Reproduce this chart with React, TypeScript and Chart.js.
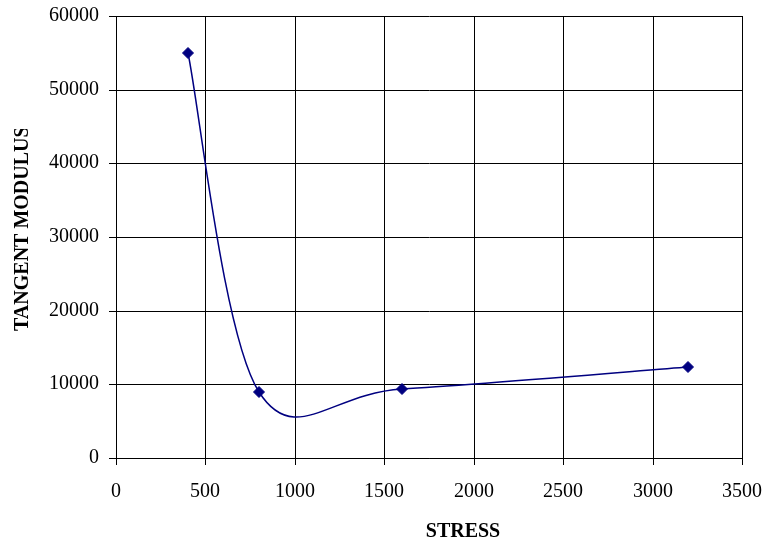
import React, { useEffect, useRef } from "react";
import { Chart, registerables } from "chart.js";

Chart.register(...registerables);

const stressValues = [400, 800, 1600, 3200];
const modulusValues = [55000, 8900, 9300, 12400];
const xTickValues = [0, 500, 1000, 1500, 2000, 2500, 3000, 3500];
const yTickValues = [0, 10000, 20000, 30000, 40000, 50000, 60000];
const xTitle = "STRESS";
const yTitle = "TANGENT MODULUS";

const FONT = "'Liberation Serif', 'Times New Roman', serif";

// Smoothed-line control points in the style of a spreadsheet "smoothed line":
// Catmull-Rom (1/6) tangents computed from the element positions given by the scales.
const smoothPlugin = {
  id: "smoothLine",
  beforeDatasetDraw(chart: any, args: any) {
    const meta = args.meta;
    const pts = meta.data;
    const n = pts.length;
    for (let i = 0; i < n; i++) {
      const p = pts[i];
      const prev = pts[i - 1] || p;
      const next = pts[i + 1] || p;
      let dx = (next.x - prev.x) / 6;
      let dy = (next.y - prev.y) / 6;
      const len = Math.hypot(dx, dy) || 1;
      const dPrev = Math.hypot(p.x - prev.x, p.y - prev.y);
      const dNext = Math.hypot(next.x - p.x, next.y - p.y);
      let fIn = 1;
      let fOut = 1;
      if (dPrev > 0 && len > dPrev / 2) fIn = dPrev / 2 / len;
      if (dNext > 0 && len > dNext / 2) fOut = dNext / 2 / len;
      p.cp1x = p.x - dx * fIn;
      p.cp1y = p.y - dy * fIn;
      p.cp2x = p.x + dx * fOut;
      p.cp2y = p.y + dy * fOut;
    }
    if (meta.dataset) {
      meta.dataset._pointsUpdated = true;
      meta.dataset._path = undefined;
    }
  },
};

const titlesPlugin = {
  id: "axisTitles",
  afterDraw(chart: any) {
    const ctx = chart.ctx;
    ctx.save();
    ctx.fillStyle = "#000";
    ctx.font = `bold 20px ${FONT}`;
    ctx.textAlign = "center";
    ctx.textBaseline = "alphabetic";
    ctx.fillText(xTitle, 463, 537);
    ctx.restore();

    ctx.save();
    ctx.beginPath();
    ctx.rect(0, 129, 80, 545 - 129);
    ctx.clip();
    ctx.fillStyle = "#000";
    ctx.font = `bold 20px ${FONT}`;
    ctx.translate(28, 331);
    ctx.rotate(-Math.PI / 2);
    ctx.textAlign = "left";
    ctx.textBaseline = "alphabetic";
    ctx.fillText(yTitle, 0, 0);
    ctx.restore();
  },
};

const zeroPadding = (s: any) => {
  s.paddingLeft = 0;
  s.paddingRight = 0;
  s.paddingTop = 0;
  s.paddingBottom = 0;
};

export default function App() {
  const ref = useRef<HTMLCanvasElement | null>(null);

  useEffect(() => {
    if (!ref.current) return;
    const points = stressValues.map((x, i) => ({ x, y: modulusValues[i] }));
    const chart = new Chart(ref.current, {
      type: "scatter",
      data: {
        datasets: [
          {
            data: points,
            showLine: true,
            borderColor: "#000080",
            borderWidth: 1.5,
            tension: 0.4,
            pointStyle: "rectRot",
            pointRadius: 5.5,
            pointBackgroundColor: "#000080",
            pointBorderColor: "#000080",
            pointBorderWidth: 1,
          } as any,
        ],
      },
      options: {
        responsive: false,
        animation: false,
        layout: { padding: { left: 0, top: 16, right: 28, bottom: 0 } },
        plugins: { legend: { display: false }, tooltip: { enabled: false } },
        scales: {
          x: {
            type: "linear",
            min: xTickValues[0],
            max: xTickValues[xTickValues.length - 1],
            alignToPixels: true,
            afterBuildTicks: (s: any) => {
              s.ticks = xTickValues.map((v) => ({ value: v }));
            },
            afterFit: (s: any) => {
              s.height = 87;
              zeroPadding(s);
            },
            ticks: {
              color: "#000",
              font: { family: FONT, size: 20 },
              padding: 15,
              maxRotation: 0,
              autoSkip: false,
              callback: (v: any) => String(v),
            },
            grid: { color: "#000", lineWidth: 1, tickLength: 7, drawTicks: true },
            border: { display: true, color: "#000", width: 1 },
          },
          y: {
            type: "linear",
            min: yTickValues[0],
            max: yTickValues[yTickValues.length - 1],
            alignToPixels: true,
            afterBuildTicks: (s: any) => {
              s.ticks = yTickValues.map((v) => ({ value: v }));
            },
            afterFit: (s: any) => {
              s.width = 116;
              zeroPadding(s);
            },
            ticks: {
              color: "#000",
              font: { family: FONT, size: 20 },
              padding: 10,
              autoSkip: false,
              callback: (v: any) => String(v),
            },
            grid: { color: "#000", lineWidth: 1, tickLength: 7, drawTicks: true },
            border: { display: true, color: "#000", width: 1 },
          },
        },
      },
      plugins: [smoothPlugin, titlesPlugin],
    });
    return () => chart.destroy();
  }, []);

  return (
    <div style={{ position: "absolute", left: 0, top: 0, width: 770, height: 545, background: "#fff" }}>
      <canvas ref={ref} width={770} height={545} style={{ display: "block" }} />
    </div>
  );
}
